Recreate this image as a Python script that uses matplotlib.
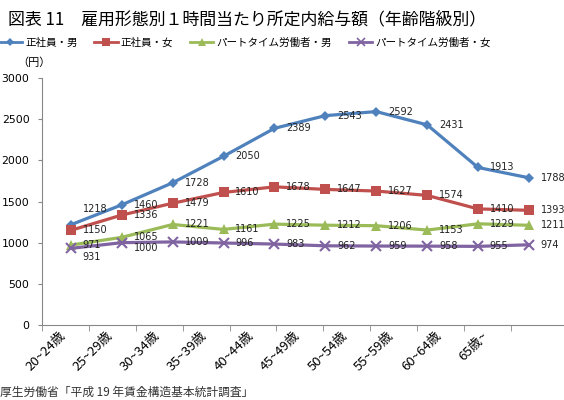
import numpy as np
import matplotlib
matplotlib.use("Agg")
import matplotlib.pyplot as plt
from matplotlib.lines import Line2D

plt.rcParams['font.family'] = ['Noto Sans CJK JP', 'DejaVu Sans']

ages = ['20~24歳', '25~29歳', '30~34歳', '35~39歳', '40~44歳',
        '45~49歳', '50~54歳', '55~59歳', '60~64歳', '65歳~']
sei_m = [1218, 1460, 1728, 2050, 2389, 2543, 2592, 2431, 1913, 1788]
sei_f = [1150, 1336, 1479, 1610, 1678, 1647, 1627, 1574, 1410, 1393]
part_m = [971, 1065, 1221, 1161, 1225, 1212, 1206, 1153, 1229, 1211]
part_f = [931, 1000, 1009, 996, 983, 962, 959, 958, 955, 974]
names = ['正社員・男', '正社員・女', 'パートタイム労働者・男', 'パートタイム労働者・女']

colors = ['#4F81BD', '#C0504D', '#9BBB59', '#8064A2']
markers = ['D', 's', '^', 'x']
msizes = [5.5, 7.5, 7, 7]

fig = plt.figure(figsize=(5.64, 4.0), dpi=100)
ax = fig.add_axes([0.0745, 0.1875, 0.9255, 0.6175])

x = np.arange(len(ages))
series = [sei_m, sei_f, part_m, part_f]
for vals, c, m, ms in zip(series, colors, markers, msizes):
    ax.plot(x, vals, color=c, lw=2.3, marker=m, ms=ms, mew=1.5 if m == 'x' else 0,
            mec=c, mfc=c)
    for i, v in enumerate(vals):
        dy = 0
        if vals is sei_m and i == 0:
            dy = 11
        if vals is part_f and i == 0:
            dy = -6
        if vals is part_f and i == 1:
            dy = -4
        ax.annotate(str(v), (i, v), xytext=(8.5, dy), textcoords='offset points',
                    ha='left', va='center', fontsize=7, color='#222222',
                    family='DejaVu Sans')

ax.set_xlim(-0.55, 9.69)
ax.set_ylim(0, 3000)
ax.set_yticks(np.arange(0, 3001, 500))
ax.tick_params(axis='y', labelsize=7.8, length=3, color='#888888', pad=6)
for lab in ax.get_yticklabels():
    lab.set_family('DejaVu Sans')

bounds = -0.569 + 0.9216 * np.arange(11)
ax.set_xticks(bounds, minor=True)
ax.set_xticks(bounds[:-1] + 0.34)
ax.set_xticklabels(ages, rotation=45, ha='right', rotation_mode='anchor', fontsize=9.5)
ax.tick_params(axis='x', which='major', length=0, pad=3)
ax.tick_params(axis='x', which='minor', length=4, color='#888888')

for s in ['top', 'right']:
    ax.spines[s].set_visible(False)
for s in ['left', 'bottom']:
    ax.spines[s].set_color('#888888')

fig.text(0.014, 0.952, '図表 11　雇用形態別１時間当たり所定内給与額（年齢階級別）',
         fontsize=12.2, va='center', ha='left')

handles = [Line2D([], [], color=c, lw=2, marker=m, ms=ms * 0.8,
                  mew=1.2 if m == 'x' else 0, mec=c, mfc=c)
           for c, m, ms in zip(colors, markers, msizes)]
fig.legend(handles, names, loc='center left', bbox_to_anchor=(-0.01, 0.893),
           ncol=4, frameon=False, fontsize=7.6, handlelength=2.2,
           handletextpad=0.3, columnspacing=1.6, borderaxespad=0)

fig.text(0.03, 0.843, '（円）', fontsize=8, va='center', ha='left')
fig.text(0.0, 0.004, '厚生労働省「平成 19 年賃金構造基本統計調査」', fontsize=8.5,
         va='bottom', ha='left', color='#333333')

fig.savefig('out.png', dpi=100)
